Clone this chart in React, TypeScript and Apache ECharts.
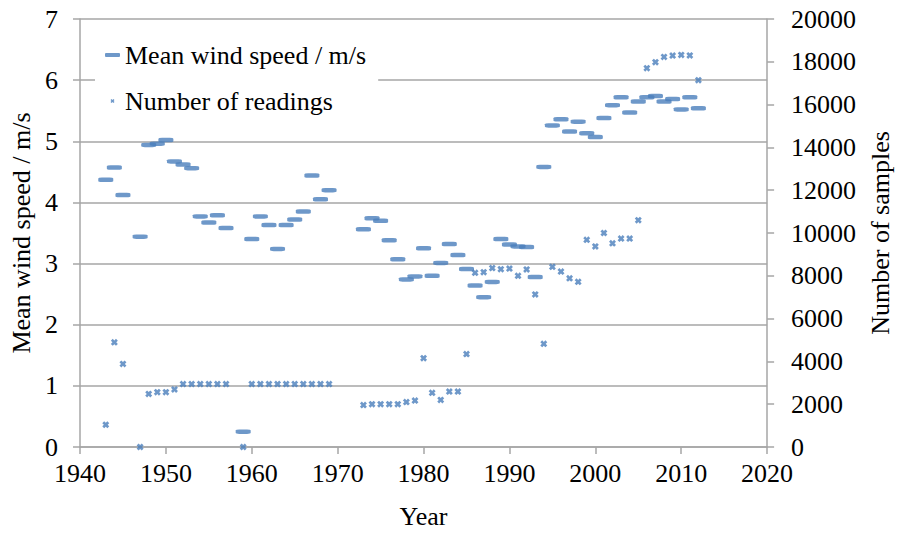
import React, { useEffect, useRef } from "react";
import * as echarts from "echarts";

const years = [
  1943, 1944, 1945, 1947, 1948, 1949, 1950, 1951, 1952, 1953, 1954, 1955, 1956, 1957,
  1959, 1960, 1961, 1962, 1963, 1964, 1965, 1966, 1967, 1968, 1969,
  1973, 1974, 1975, 1976, 1977, 1978, 1979, 1980, 1981, 1982, 1983, 1984, 1985, 1986,
  1987, 1988, 1989, 1990, 1991, 1992, 1993, 1994, 1995, 1996, 1997, 1998, 1999, 2000,
  2001, 2002, 2003, 2004, 2005, 2006, 2007, 2008, 2009, 2010, 2011, 2012,
];

const meanWindSpeed = [
  4.37, 4.57, 4.12, 3.44, 4.94, 4.96, 5.02, 4.67, 4.62, 4.56, 3.77, 3.67, 3.79, 3.58,
  0.25, 3.4, 3.77, 3.63, 3.24, 3.63, 3.72, 3.85, 4.44, 4.05, 4.2,
  3.56, 3.74, 3.7, 3.38, 3.07, 2.74, 2.79, 3.25, 2.8, 3.01, 3.32, 3.14, 2.91, 2.64,
  2.45, 2.7, 3.4, 3.31, 3.28, 3.27, 2.78, 4.58, 5.26, 5.36, 5.16, 5.32, 5.13, 5.07,
  5.38, 5.59, 5.72, 5.47, 5.65, 5.72, 5.74, 5.65, 5.69, 5.52, 5.72, 5.54,
];

const numberOfReadings = [
  1040, 4890, 3880, 0, 2480, 2560, 2560, 2690, 2940, 2940, 2940, 2940, 2940, 2940,
  0, 2940, 2940, 2940, 2940, 2940, 2940, 2940, 2940, 2940, 2940,
  1960, 2000, 2000, 2000, 2000, 2100, 2170, 4150, 2530, 2200, 2590, 2590, 4340, 8140,
  8170, 8360, 8310, 8340, 8000, 8300, 7130, 4820, 8420, 8200, 7880, 7720, 9680, 9370,
  10000, 9520, 9740, 9740, 10600, 17700, 17980, 18230, 18290, 18320, 18300, 17140,
];

const seriesNames = ["Mean wind speed / m/s", "Number of readings"];
const xAxisName = "Year";
const leftAxisName = "Mean wind speed / m/s";
const rightAxisName = "Number of samples";

const FONT = "Liberation Serif";
const BLUE = "#4A7EBB";
const GREY = "#A6A6A6";
const CROSS =
  "path://M0,2.7L2.7,0L5,2.3L7.3,0L10,2.7L7.7,5L10,7.3L7.3,10L5,7.7L2.7,10L0,7.3L2.3,5Z";

export default function App() {
  const ref = useRef<HTMLDivElement>(null);

  useEffect(() => {
    if (!ref.current) return;
    const chart = echarts.init(ref.current, undefined, { renderer: "svg" });
    const labelStyle = {
      color: "#000",
      fontFamily: FONT,
      fontSize: 26,
      formatter: (v: number) => String(v),
    };
    const nameStyle = { color: "#000", fontFamily: FONT, fontSize: 26 };
    const lineStyle = { color: GREY, width: 1.5 };
    chart.setOption({
      animation: false,
      backgroundColor: "#fff",
      textStyle: { fontFamily: FONT },
      grid: { left: 80, right: 132, top: 19, bottom: 86.5, containLabel: false },
      legend: {
        orient: "vertical",
        left: 95,
        top: 30,
        padding: [12, 12, 12, 10],
        backgroundColor: "#fff",
        itemWidth: 15,
        itemHeight: 4,
        itemGap: 20,
        itemTextGap: 7,
        textStyle: { color: "#000", fontFamily: FONT, fontSize: 26 },
        data: [
          { name: seriesNames[0], icon: "roundRect" },
          { name: seriesNames[1], icon: CROSS },
        ],
      },
      xAxis: {
        type: "value",
        min: 1940,
        max: 2020,
        interval: 10,
        splitLine: { show: false },
        name: xAxisName,
        nameLocation: "middle",
        nameGap: 56,
        nameTextStyle: nameStyle,
        axisLine: { show: true, lineStyle },
        axisTick: { show: true, inside: false, length: 7, lineStyle },
        axisLabel: { ...labelStyle, margin: 13 },
      },
      yAxis: [
        {
          type: "value",
          min: 0,
          max: 7,
          interval: 1,
          splitLine: { show: true, lineStyle },
          name: leftAxisName,
          nameLocation: "middle",
          nameGap: 45,
          nameTextStyle: nameStyle,
          axisLine: { show: true, lineStyle },
          axisTick: { show: true, inside: false, length: 7, lineStyle },
          axisLabel: { ...labelStyle, margin: 22 },
        },
        {
          type: "value",
          min: 0,
          max: 20000,
          interval: 2000,
          splitLine: { show: false },
          name: rightAxisName,
          nameLocation: "middle",
          nameGap: 95,
          nameRotate: 90,
          nameTextStyle: nameStyle,
          axisLine: { show: true, lineStyle },
          axisTick: { show: true, inside: false, length: 7, lineStyle },
          axisLabel: { ...labelStyle, margin: 24 },
        },
      ],
      series: [
        {
          name: seriesNames[0],
          type: "scatter",
          yAxisIndex: 0,
          symbol: "roundRect",
          symbolSize: [15, 4.5],
          itemStyle: { color: BLUE },
          data: years.map((y, i) => [y, meanWindSpeed[i]]),
          z: 3,
        },
        {
          name: seriesNames[1],
          type: "scatter",
          yAxisIndex: 1,
          symbol: CROSS,
          symbolSize: 7,
          itemStyle: { color: BLUE },
          data: years.map((y, i) => [y, numberOfReadings[i]]),
          z: 4,
        },
      ],
    });
    return () => chart.dispose();
  }, []);

  return (
    <div
      ref={ref}
      style={{ position: "fixed", left: 0, top: 0, width: 901, height: 534 }}
    />
  );
}
